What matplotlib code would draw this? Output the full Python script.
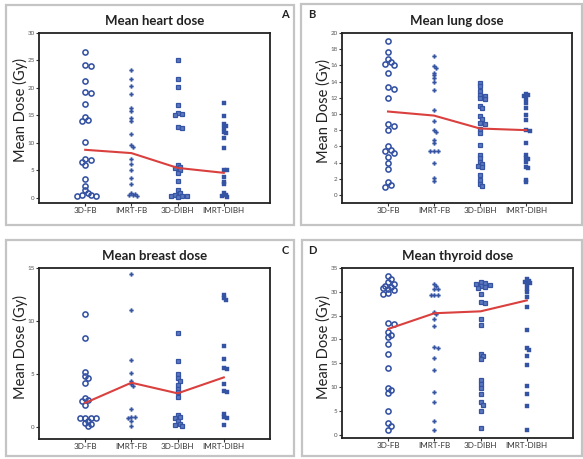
import numpy as np
import matplotlib
matplotlib.use("Agg")
import matplotlib.pyplot as plt
from matplotlib.patches import Rectangle

plt.rcParams['font.family'] = ['Lato', 'DejaVu Sans']

categories = ["3D-FB", "IMRT-FB", "3D-DIBH", "IMRT-DIBH"]

# Panel A: heart
heart_3dfb = [26.5, 24.2, 24.0, 21.3, 19.3, 19.0, 17.1, 14.6, 14.2, 13.9, 10.1, 7.1, 6.8, 6.5, 5.9,
              3.3, 2.1, 1.4, 0.8, 0.5, 0.4, 0.3, 0.3]
heart_imrtfb = [23.2, 21.6, 20.4, 18.8, 16.3, 15.8, 14.5, 14.0, 11.5, 9.5, 9.2, 7.0, 6.2, 5.1, 3.6,
                2.4, 0.9, 0.7, 0.5, 0.4, 0.3]
heart_3ddibh = [25.0, 21.6, 20.2, 16.8, 15.5, 15.2, 15.0, 12.9, 12.6, 6.0, 5.6, 5.3, 5.0, 4.4, 3.0,
                1.3, 0.8, 0.5, 0.3, 0.2, 0.2, 0.1]
heart_imrtdibh = [17.2, 14.8, 13.4, 13.0, 12.6, 12.0, 11.7, 10.9, 9.1, 5.1, 5.0, 3.8, 2.9, 2.4,
                  0.9, 0.5, 0.3, 0.1]
heart_mean = [8.7, 8.1, 5.4, 4.5]

# Panel B: lung
lung_3dfb = [19.05, 17.7, 16.8, 16.4, 16.2, 16.0, 15.1, 13.3, 13.1, 12.0, 8.7, 8.5, 8.0, 6.0, 5.6,
             5.4, 5.2, 4.7, 4.0, 3.2, 1.6, 1.2, 0.95]
lung_imrtfb = [17.2, 15.9, 15.7, 15.1, 14.8, 14.4, 14.0, 13.0, 10.5, 9.1, 8.0, 7.8, 6.8, 6.4, 5.4,
               5.4, 5.4, 4.0, 2.1, 1.7]
lung_3ddibh = [13.8, 13.4, 12.8, 12.4, 12.2, 12.0, 11.8, 11.0, 10.7, 9.7, 9.4, 8.9, 8.7, 8.2, 7.6,
               6.2, 4.9, 4.5, 4.1, 3.8, 3.6, 3.4, 2.5, 1.9, 1.4, 1.1]
lung_imrtdibh = [12.5, 12.3, 12.2, 11.9, 11.3, 10.7, 9.9, 9.3, 8.0, 7.9, 6.4, 4.9, 4.6, 4.4, 4.1,
                 3.5, 3.3, 1.9, 1.6]
lung_mean = [10.3, 9.8, 8.2, 8.0]

# Panel C: breast
breast_3dfb = [10.7, 8.4, 5.2, 4.8, 4.6, 4.2, 2.8, 2.6, 2.5, 2.1, 0.9, 0.9, 0.9, 0.9, 0.6, 0.4,
               0.35, 0.1]
breast_imrtfb = [14.4, 11.0, 6.3, 5.1, 4.4, 4.1, 3.9, 1.7, 1.0, 0.95, 0.9, 0.6, 0.1]
breast_3ddibh = [8.9, 6.2, 5.0, 4.6, 4.4, 4.0, 3.6, 3.3, 2.9, 1.2, 1.0, 0.9, 0.6, 0.35, 0.25, 0.1]
breast_imrtdibh = [12.5, 12.2, 12.0, 7.7, 6.4, 5.6, 5.5, 4.1, 3.4, 3.3, 1.3, 1.0, 0.9, 0.2]
breast_mean = [2.3, 4.2, 3.2, 4.7]

# Panel D: thyroid
thyroid_3dfb = [33.3, 32.7, 32.0, 31.7, 31.3, 31.1, 30.8, 30.6, 30.3, 29.8, 29.6, 23.4, 23.2, 21.5,
                21.0, 20.5, 19.0, 17.0, 13.9, 9.8, 9.3, 8.8, 5.0, 2.4, 1.8, 1.0]
thyroid_imrtfb = [31.7, 31.3, 30.6, 30.6, 29.4, 29.4, 29.4, 25.8, 25.3, 24.3, 22.9, 18.4, 18.3,
                  16.2, 13.5, 8.9, 6.8, 2.8, 1.0]
thyroid_3ddibh = [32.0, 31.8, 31.7, 31.5, 31.2, 31.0, 30.8, 29.6, 27.9, 27.7, 24.3, 23.1, 17.0,
                  16.5, 15.8, 11.4, 10.7, 9.8, 8.5, 6.8, 6.3, 5.0, 1.3]
thyroid_imrtdibh = [32.6, 32.2, 32.0, 31.8, 31.5, 30.5, 29.9, 28.9, 26.9, 21.9, 18.1, 17.7, 16.5,
                    14.6, 10.3, 8.5, 6.1, 1.0]
thyroid_mean = [22.2, 25.5, 25.9, 28.2]

titles = ["Mean heart dose", "Mean lung dose", "Mean breast dose", "Mean thyroid dose"]
letters = ["A", "B", "C", "D"]
ylims = [(-1.0, 30), (-1.0, 20), (-1.1, 15), (-0.7, 35)]
yticks = [np.arange(0, 31, 5), np.arange(0, 21, 2), np.arange(0, 16, 5), np.arange(0, 36, 5)]

panels = [
    ([heart_3dfb, heart_imrtfb, heart_3ddibh, heart_imrtdibh], heart_mean),
    ([lung_3dfb, lung_imrtfb, lung_3ddibh, lung_imrtdibh], lung_mean),
    ([breast_3dfb, breast_imrtfb, breast_3ddibh, breast_imrtdibh], breast_mean),
    ([thyroid_3dfb, thyroid_imrtfb, thyroid_3ddibh, thyroid_imrtdibh], thyroid_mean),
]

BLUE = "#3553a3"
RED = "#d9403e"
W, H = 583, 459
fig = plt.figure(figsize=(W / 100, H / 100), dpi=100)

# axes rectangles in pixels: (left, top, right, bottom)
ax_px = [(39, 33, 270, 203), (342, 33, 572, 203), (39, 268, 270, 439), (342, 268, 573, 438)]
box_px = [(6, 5, 294, 225), (301, 4, 582, 225), (6, 240, 294, 456), (302, 240, 582, 456)]
letter_px = [(285, 15), (312, 15), (285, 250), (312, 250)]
ylabel_px = [(20, 110), (323, 111), (20, 347), (323, 347)]

# outer panel borders
for (l, t, r, b) in box_px:
    fig.patches.append(Rectangle((l / W, 1 - b / H), (r - l) / W, (b - t) / H,
                                 transform=fig.transFigure, fill=False,
                                 edgecolor="#c4c4c4", lw=1.6))

markers = [
    dict(marker="o", ms=3.7, mfc="none", mec=BLUE, mew=1.15),
    dict(marker="P", ms=2.9, mfc=BLUE, mec=BLUE, mew=0.2),
    dict(marker="s", ms=3.0, mfc="#5b78bf", mec=BLUE, mew=0.9),
    dict(marker="s", ms=2.5, mfc=BLUE, mec=BLUE, mew=0.3),
]
diam_px = [4.6, 3.2, 3.8, 3.0]


def swarm(vals, px_per_unit_y, px_per_unit_x, diam):
    """Simple beeswarm: horizontal offsets (data units) reducing overlap."""
    order = np.argsort(vals)[::-1]
    placed = []
    offs = np.zeros(len(vals))
    for i in order:
        y = vals[i] * px_per_unit_y
        cands = [0]
        for j in range(1, 12):
            cands += [j, -j]
        for c in cands:
            x = c * diam * 0.6
            ok = all((x - px) ** 2 + (y - py) ** 2 >= (diam * 0.75) ** 2 for px, py in placed)
            if ok:
                placed.append((x, y))
                offs[i] = x / px_per_unit_x
                break
    return offs


for idx, ((series, means), title, letter, ylim, yt) in enumerate(
        zip(panels, titles, letters, ylims, yticks)):
    l, t, r, b = ax_px[idx]
    ax = fig.add_axes([l / W, 1 - b / H, (r - l) / W, (b - t) / H])
    ax.set_xlim(0, 5)
    ax.set_ylim(*ylim)
    ppy = (b - t) / (ylim[1] - ylim[0])
    ppx = (r - l) / 5.0
    for k, vals in enumerate(series):
        v = np.array(vals)
        offs = swarm(v, ppy, ppx, diam_px[k])
        ax.plot(np.full(len(v), k + 1.0) + offs, v, ls="none", **markers[k], zorder=3)
    ax.plot(np.arange(1, 5), means, color=RED, lw=1.5, zorder=4)
    ax.set_xticks(np.arange(1, 5))
    ax.set_xticklabels(categories, fontsize=5.8, color="#333333")
    ax.set_yticks(yt)
    ax.set_yticklabels([str(v) for v in yt], fontsize=4.5, color="#555555")
    ax.tick_params(axis="both", direction="out", length=2, width=0.8, color="#333333", pad=1.2)
    for s in ax.spines.values():
        s.set_linewidth(1.3)
        s.set_color("#222222")
    ax.set_title(title, fontsize=9.5, fontweight="bold", color="#222222", pad=6)
    yx, yy = ylabel_px[idx]
    fig.text(yx / W, 1 - yy / H, "Mean Dose (Gy)", rotation=90, fontsize=10.5,
             ha="center", va="center", color="#222222")
    lx, ly = letter_px[idx]
    fig.text(lx / W, 1 - ly / H, letter, fontsize=8, fontweight="bold",
             ha="center", va="center", color="#222222")

fig.savefig("out.png", dpi=100, facecolor="white")
